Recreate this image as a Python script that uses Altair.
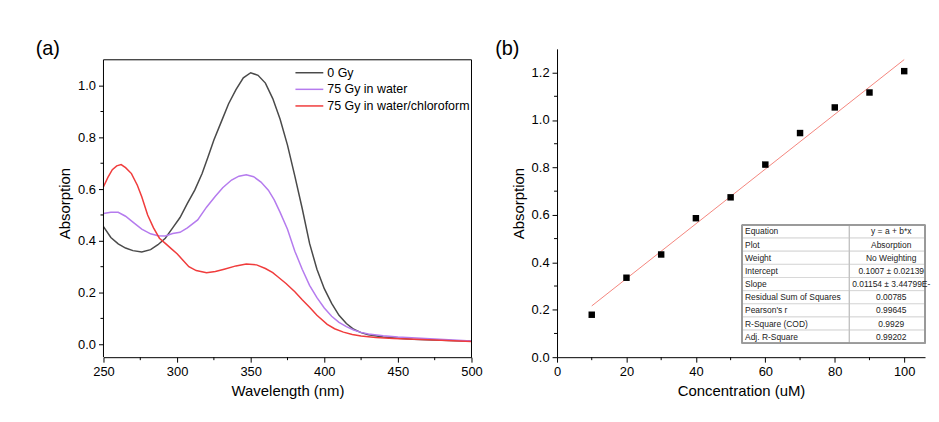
import altair as alt
import pandas as pd

FONT = "Liberation Sans"

# ---------------- Panel (a): absorption spectra ----------------
series_names = ["0 Gy", "75 Gy in water", "75 Gy in water/chloroform"]
series_colors = ["#4a4a4a", "#b57bee", "#f03c3c"]

wl_0gy = [250, 255, 260, 265, 270, 276, 282, 287, 292, 297, 302, 307, 312, 317, 321, 325,
          330, 335, 340, 345, 350, 355, 360, 365, 370, 375, 380, 385, 390, 395, 400, 405,
          410, 415, 420, 425, 430, 440, 450, 460, 475, 500]
abs_0gy = [0.455, 0.413, 0.388, 0.372, 0.362, 0.357, 0.366, 0.385, 0.41, 0.45, 0.49, 0.545,
           0.596, 0.66, 0.724, 0.79, 0.86, 0.93, 0.985, 1.03, 1.05, 1.04, 1.01, 0.95, 0.87,
           0.77, 0.65, 0.525, 0.39, 0.29, 0.215, 0.158, 0.112, 0.08, 0.058, 0.045, 0.037,
           0.028, 0.023, 0.019, 0.016, 0.012]

wl_water = [250, 255, 260, 265, 270, 276, 282, 287, 292, 297, 302, 307, 314, 320, 326, 331,
            337, 342, 347, 352, 357, 362, 366, 370, 375, 380, 385, 390, 395, 400, 405, 410,
            415, 420, 425, 430, 440, 450, 475, 500]
abs_water = [0.506, 0.51, 0.51, 0.495, 0.472, 0.445, 0.427, 0.42, 0.419, 0.428, 0.433, 0.45,
             0.481, 0.53, 0.572, 0.605, 0.635, 0.65, 0.655, 0.648, 0.627, 0.596, 0.558, 0.51,
             0.445, 0.36, 0.29, 0.228, 0.18, 0.14, 0.108, 0.085, 0.068, 0.055, 0.046, 0.04,
             0.033, 0.028, 0.02, 0.013]

wl_chl = [250, 253, 256, 259, 262, 265, 269, 273, 276, 280, 284, 288, 292, 296, 300, 304,
          308, 313, 320, 326, 332, 340, 347, 354, 360, 365, 368, 374, 380, 385, 390, 395,
          402, 407, 413, 419, 425, 435, 447, 475, 500]
abs_chl = [0.609, 0.645, 0.675, 0.69, 0.695, 0.683, 0.66, 0.615, 0.57, 0.5, 0.45, 0.41, 0.39,
           0.37, 0.35, 0.325, 0.3, 0.285, 0.277, 0.281, 0.29, 0.303, 0.31, 0.307, 0.293, 0.277,
           0.263, 0.235, 0.203, 0.172, 0.143, 0.112, 0.077, 0.06, 0.047, 0.038, 0.032, 0.026,
           0.022, 0.016, 0.011]

a_xticks = [250, 300, 350, 400, 450, 500]
a_xminor = [275, 325, 375, 425, 475]
a_yticks = [0.0, 0.2, 0.4, 0.6, 0.8, 1.0]
a_yminor = [0.1, 0.3, 0.5, 0.7, 0.9]
a_frame_x = [250, 500]
a_frame_y = [-0.05, 1.1]

# ---------------- Panel (b): calibration ----------------
conc = [10, 20, 30, 40, 50, 60, 70, 80, 90, 100]
absorb = [0.179, 0.335, 0.433, 0.586, 0.674, 0.812, 0.945, 1.053, 1.116, 1.206]
fit_x = [10, 100]
fit_y = [0.2161, 1.2547]

b_xticks = [0, 20, 40, 60, 80, 100]
b_xminor = [10, 30, 50, 70, 90]
b_yticks = [0.0, 0.2, 0.4, 0.6, 0.8, 1.0, 1.2]
b_yminor = [0.1, 0.3, 0.5, 0.7, 0.9, 1.1]

table_labels = ["Equation", "Plot", "Weight", "Intercept", "Slope",
                "Residual Sum of Squares", "Pearson's r", "R-Square (COD)", "Adj. R-Square"]
table_values = ["y = a + b*x", "Absorption", "No Weighting", "0.1007 ± 0.02139",
                "0.01154 ± 3.44799E-", "0.00785", "0.99645", "0.9929", "0.99202"]

# ---------------- build ----------------
curves = pd.concat([
    pd.DataFrame({"wl": wl_0gy, "a": abs_0gy, "series": series_names[0]}),
    pd.DataFrame({"wl": wl_water, "a": abs_water, "series": series_names[1]}),
    pd.DataFrame({"wl": wl_chl, "a": abs_chl, "series": series_names[2]}),
], ignore_index=True)

WA, H = 370, 310
WB = 370

xa_scale = alt.Scale(domain=[250, 500], nice=False, zero=False)
ya_scale = alt.Scale(domain=[-0.05, -0.05 + H / 260.0], nice=False, zero=False)

lines = alt.Chart(curves).mark_line(strokeWidth=1.5).encode(
    x=alt.X("wl:Q", scale=xa_scale,
            axis=alt.Axis(values=a_xticks, title="Wavelength (nm)", format="d",
                          labelFlush=False, labelOverlap=False)),
    y=alt.Y("a:Q", scale=ya_scale,
            axis=alt.Axis(values=a_yticks, title="Absorption", format=".1f",
                          domain=False, labelOverlap=False)),
    color=alt.Color("series:N",
                    scale=alt.Scale(domain=series_names, range=series_colors),
                    legend=alt.Legend(orient="none", legendX=199, legendY=16, title=None,
                                      symbolType="M-2,0H2", symbolSize=196,
                                      symbolStrokeWidth=1.5, labelFontSize=12.5,
                                      labelFont=FONT, labelColor="black",
                                      rowPadding=1.7, labelOffset=10, padding=0)),
    order="wl:Q",
)

frame_df = pd.DataFrame({"x1": [a_frame_x[0], a_frame_x[1], a_frame_x[0]],
                         "x2": [a_frame_x[0], a_frame_x[1], a_frame_x[1]],
                         "y1": [a_frame_y[0], a_frame_y[0], a_frame_y[1]],
                         "y2": [a_frame_y[1], a_frame_y[1], a_frame_y[1]]})
a_frame = alt.Chart(frame_df).mark_rule(color="black", strokeWidth=1).encode(
    x=alt.X("x1:Q", scale=xa_scale), x2="x2:Q",
    y=alt.Y("y1:Q", scale=ya_scale), y2="y2:Q")

a_minor_x = alt.Chart(pd.DataFrame({"v": a_xminor})).mark_rule(color="black").encode(
    x=alt.X("v:Q", scale=xa_scale), y=alt.value(H), y2=alt.value(H + 3))
a_minor_y = alt.Chart(pd.DataFrame({"v": a_yminor})).mark_rule(color="black").encode(
    y=alt.Y("v:Q", scale=ya_scale), x=alt.value(-3), x2=alt.value(0))
a_label = alt.Chart(pd.DataFrame({"t": ["(a)"]})).mark_text(
    fontSize=20, font=FONT, align="center", baseline="middle", color="black").encode(
    x=alt.value(-56), y=alt.value(0), text="t:N")

panel_a = alt.layer(lines, a_frame, a_minor_x, a_minor_y, a_label).properties(
    width=WA, height=H)

xb_scale = alt.Scale(domain=[0, 106], nice=False, zero=False)
yb_scale = alt.Scale(domain=[0, 1.3], nice=False, zero=False)

pts = alt.Chart(pd.DataFrame({"c": conc, "a": absorb})).mark_square(
    size=42, color="black", opacity=1).encode(
    x=alt.X("c:Q", scale=xb_scale,
            axis=alt.Axis(values=b_xticks, title="Concentration (uM)", format="d",
                          labelFlush=False, labelOverlap=False)),
    y=alt.Y("a:Q", scale=yb_scale,
            axis=alt.Axis(values=b_yticks, title="Absorption", format=".1f",
                          labelOverlap=False)),
)
fit = alt.Chart(pd.DataFrame({"c": fit_x, "a": fit_y})).mark_line(
    color="#f4857d", strokeWidth=1).encode(
    x=alt.X("c:Q", scale=xb_scale), y=alt.Y("a:Q", scale=yb_scale))
b_minor_x = alt.Chart(pd.DataFrame({"v": b_xminor})).mark_rule(color="black").encode(
    x=alt.X("v:Q", scale=xb_scale), y=alt.value(H), y2=alt.value(H + 3))
b_minor_y = alt.Chart(pd.DataFrame({"v": b_yminor})).mark_rule(color="black").encode(
    y=alt.Y("v:Q", scale=yb_scale), x=alt.value(-3), x2=alt.value(0))
b_label = alt.Chart(pd.DataFrame({"t": ["(b)"]})).mark_text(
    fontSize=20, font=FONT, align="center", baseline="middle", color="black").encode(
    x=alt.value(-50), y=alt.value(0), text="t:N")

main_b = alt.layer(fit, pts, b_minor_x, b_minor_y, b_label)

tab = pd.DataFrame({"row": list(range(len(table_labels))),
                    "label": table_labels, "value": table_values})
T_TOP, T_BOT, T_LEFT, T_DIV, T_RIGHT = 177, 296, 186, 294, WB
row_scale = alt.Scale(type="band", domain=list(range(len(table_labels))),
                      range=[T_TOP, T_BOT], paddingInner=0, paddingOuter=0)
tbase = alt.Chart(tab)
t_rows = tbase.mark_rect(fill="white", stroke="#d8d8d8", strokeWidth=1).encode(
    y=alt.Y("row:O", scale=row_scale, axis=None),
    x=alt.value(T_LEFT), x2=alt.value(T_RIGHT))
t_lab = tbase.mark_text(align="left", baseline="middle", fontSize=8.5, font=FONT,
                        color="#222").encode(
    y=alt.Y("row:O", scale=row_scale, axis=None), x=alt.value(T_LEFT + 3), text="label:N")
t_val = tbase.mark_text(align="center", baseline="middle", fontSize=8.5, font=FONT,
                        color="#222").encode(
    y=alt.Y("row:O", scale=row_scale, axis=None), x=alt.value(336), text="value:N")
t_div = tbase.mark_rule(color="#c4c4c4").encode(
    x=alt.value(T_DIV), y=alt.value(T_TOP), y2=alt.value(T_BOT))
t_box = tbase.mark_rect(fillOpacity=0, stroke="#9a9a9a", strokeWidth=1).encode(
    x=alt.value(T_LEFT), x2=alt.value(T_RIGHT), y=alt.value(T_TOP), y2=alt.value(T_BOT))
table_layer = alt.layer(t_rows, t_div, t_box, t_lab, t_val)

panel_b = alt.layer(main_b, table_layer).resolve_scale(y="independent").properties(
    width=WB, height=H)

chart = alt.hconcat(panel_a, panel_b, spacing=12).properties(
    padding={"left": 27, "top": 30, "right": 0, "bottom": 5}
).configure_view(stroke=None).configure_axis(
    labelFont=FONT, titleFont=FONT, labelFontSize=13, titleFontSize=15,
    titleFontWeight="normal", labelColor="black", titleColor="black",
    domainColor="black", tickColor="black", tickSize=5, grid=False,
    labelPadding=3, titlePadding=6,
).configure_axisY(titlePadding=5)

chart.save("out.html", embed_options={"renderer": "svg", "actions": False})
